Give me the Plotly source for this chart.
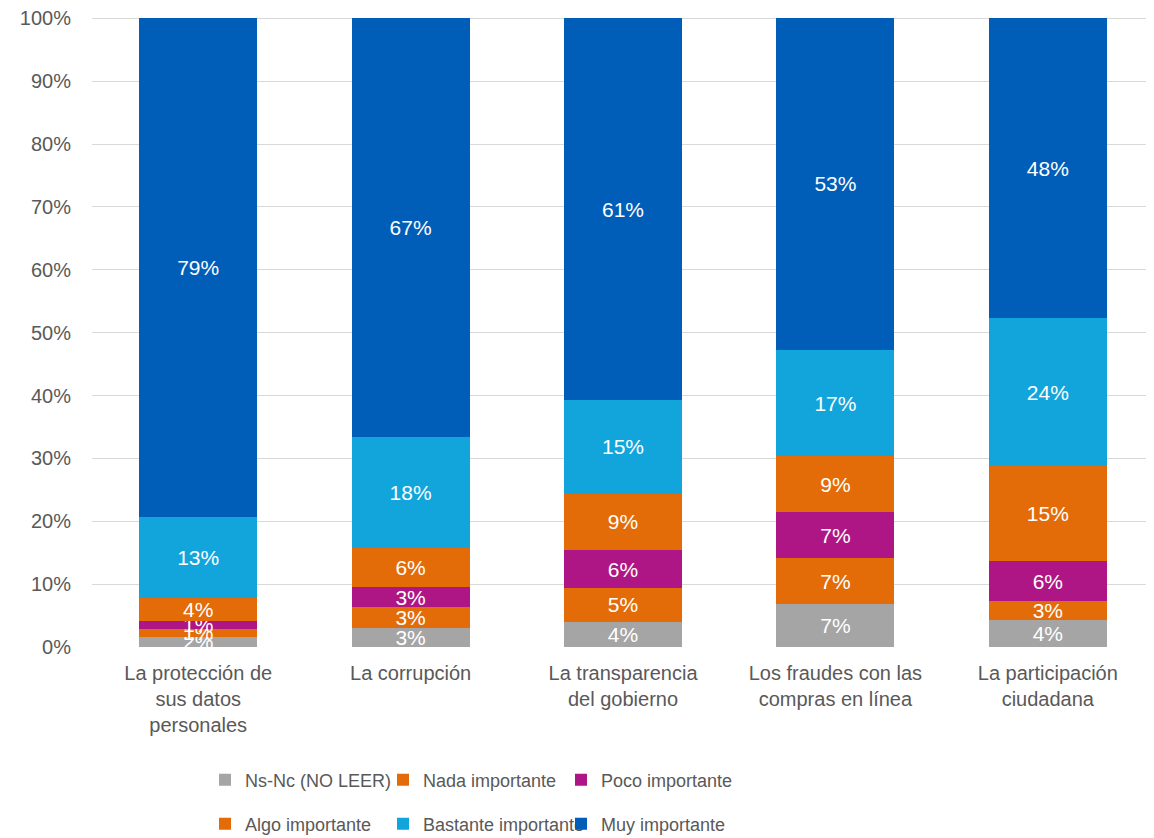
import plotly.graph_objects as go

categories = ['La protección de<br>sus datos<br>personales', 'La corrupción',
              'La transparencia<br>del gobierno', 'Los fraudes con las<br>compras en línea',
              'La participación<br>ciudadana']
series_names = ['Ns-Nc (NO LEER)', 'Nada importante', 'Poco importante',
                'Algo importante', 'Bastante importante', 'Muy importante']
ns_nc = [1.6, 3.1, 4.0, 6.8, 4.3]
nada = [1.3, 3.2, 5.4, 7.3, 3.0]
poco = [1.2, 3.2, 6.0, 7.3, 6.3]
algo = [3.7, 6.3, 9.0, 8.9, 15.2]
bastante = [12.9, 17.6, 14.9, 17.0, 23.5]
muy = [79.3, 66.6, 60.7, 52.7, 47.7]
y_ticks = [0, 10, 20, 30, 40, 50, 60, 70, 80, 90, 100]

values = [ns_nc, nada, poco, algo, bastante, muy]
colors = ['#A5A5A5', '#E36C09', '#AF1685', '#E36C09', '#12A5DC', '#005EB8']
legend_ref = ['legend', 'legend', 'legend', 'legend2', 'legend2', 'legend2']

FONT = 'Liberation Sans, Arial, sans-serif'
W, H = 1146, 830  # page body has an 8px margin

fig = go.Figure()
for name, vals, col, lg in zip(series_names, values, colors, legend_ref):
    fig.add_trace(go.Bar(
        x=categories, y=[v / 100 for v in vals], name=name,
        marker=dict(color=col, line=dict(width=0)),
        texttemplate='%{y:.0%}', textposition='inside', insidetextanchor='middle',
        textfont=dict(color='white', size=21, family=FONT),
        legend=lg,
    ))

legend_style = dict(orientation='h', xanchor='left', yanchor='middle', xref='container',
                    yref='container',
                    font=dict(size=18, color='#595959', family=FONT),
                    entrywidth=133, itemwidth=30, bgcolor='rgba(0,0,0,0)',
                    traceorder='normal')

fig.update_layout(
    barmode='stack', bargap=0.445,
    width=W, height=H,
    margin=dict(l=84, r=0, t=9, b=191),
    plot_bgcolor='white', paper_bgcolor='white',
    font=dict(family=FONT, color='#595959'),
    uniformtext=dict(minsize=21, mode='show'),
    legend=dict(x=197 / W, y=1 - 772 / H, **legend_style),
    legend2=dict(x=197 / W, y=1 - 816 / H, **legend_style),
    yaxis=dict(range=[0, 1.002], tickvals=[t / 100 for t in y_ticks],
               ticktext=[f'{t}%' for t in y_ticks], tickfont=dict(size=20, color='#595959'),
               showgrid=True, gridcolor='#D9D9D9', gridwidth=1, zeroline=False,
               ticks='', ticklabelstandoff=20, ticklabeloverflow='allow', automargin=False),
    xaxis=dict(tickfont=dict(size=20, color='#595959'), showline=False, ticks='',
               ticklabelstandoff=12),
)

fig.write_html('out.html')
